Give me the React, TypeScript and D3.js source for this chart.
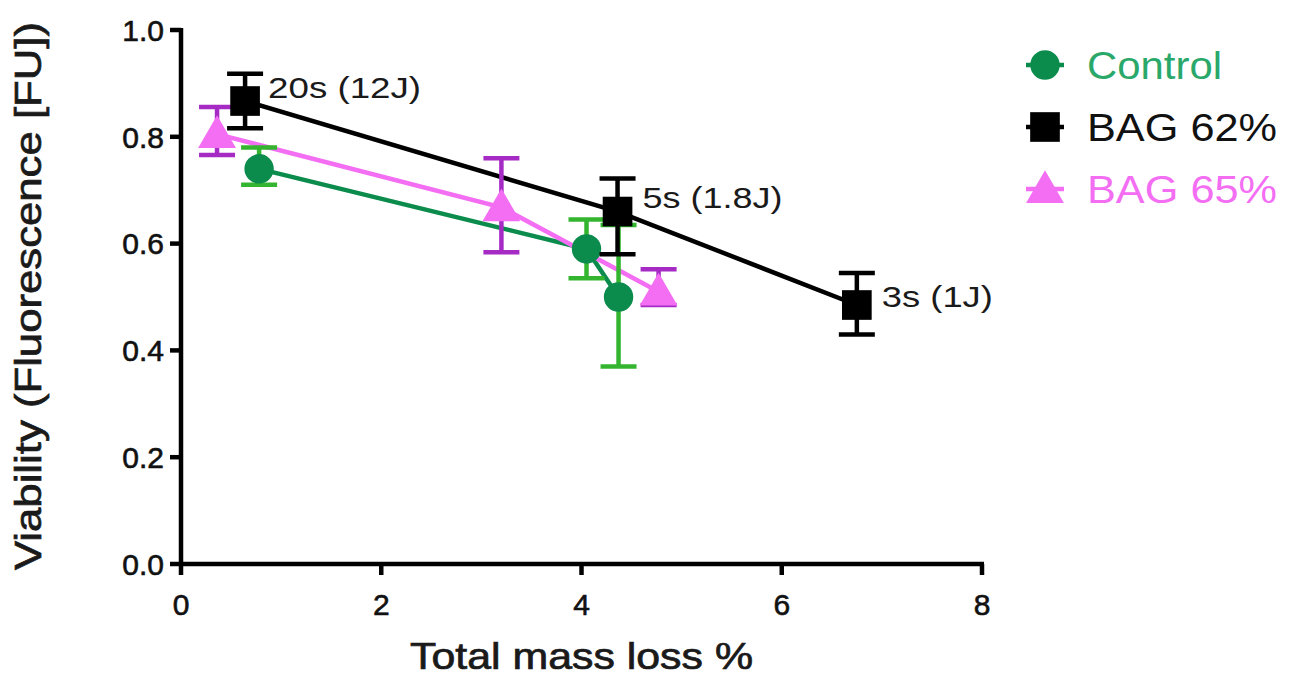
import React from "react";
import * as d3 from "d3";

// series: x = total mass loss %, y = viability, lo/hi = error bar ends
const controlX = [0.78, 4.05, 4.37];
const controlY = [0.74, 0.59, 0.5];
const controlLo = [0.71, 0.535, 0.37];
const controlHi = [0.78, 0.645, 0.635];

const bag62X = [0.64, 4.36, 6.75];
const bag62Y = [0.867, 0.66, 0.485];
const bag62Lo = [0.816, 0.58, 0.43];
const bag62Hi = [0.918, 0.722, 0.545];

const bag65X = [0.36, 3.2, 4.77];
const bag65Y = [0.805, 0.668, 0.51];
const bag65Lo = [0.766, 0.584, 0.485];
const bag65Hi = [0.856, 0.76, 0.552];

const bag62Notes = ["20s (12J)", "5s (1.8J)", "3s (1J)"];
const noteWidths = [153, 140, 111];

const xTicks = [0, 2, 4, 6, 8];
const yTicks = [0, 0.2, 0.4, 0.6, 0.8, 1.0];

const font = "'Liberation Sans', Arial, sans-serif";

export default function App() {
  const x = d3.scaleLinear().domain([0, 8]).range([181, 982]);
  const y = d3.scaleLinear().domain([0, 1]).range([564, 30]);

  const series = [
    {
      name: "Control", xs: controlX, ys: controlY, lo: controlLo, hi: controlHi,
      line: "#0c8c4c", marker: "#0c8c4c", err: "#33b52f", text: "#2aa86a", shape: "circle", w: 135,
    },
    {
      name: "BAG 65%", xs: bag65X, ys: bag65Y, lo: bag65Lo, hi: bag65Hi,
      line: "#f36ef3", marker: "#f36ef3", err: "#a52bc4", text: "#f36ef3", shape: "triangle", w: 190,
    },
    {
      name: "BAG 62%", xs: bag62X, ys: bag62Y, lo: bag62Lo, hi: bag62Hi,
      line: "#000", marker: "#000", err: "#000", text: "#111", shape: "square", w: 190,
    },
  ];

  const sym = (shape: string) =>
    shape === "circle" ? d3.symbol(d3.symbolCircle, 680)()
      : shape === "square" ? d3.symbol(d3.symbolSquare, 880)()
      : d3.symbol(d3.symbolTriangle, 620)();

  const line = d3.line<number>();

  const legend = [series[0], series[2], series[1]];

  return (
    <svg width={1296} height={680} style={{ position: "absolute", left: 0, top: 0 }}>
      {/* axes */}
      <g stroke="#000" strokeWidth={4.5} fill="none">
        <line x1={x(0)} x2={x(0)} y1={y(1) - 2} y2={y(0) + 2} />
        <line x1={x(0) - 2} x2={x(8) + 2} y1={y(0)} y2={y(0)} />
        {yTicks.map((t) => (
          <line key={t} x1={x(0) - 11} x2={x(0)} y1={y(t)} y2={y(t)} />
        ))}
        {xTicks.map((t) => (
          <line key={t} x1={x(t)} x2={x(t)} y1={y(0)} y2={y(0) + 11} />
        ))}
      </g>
      <g fontFamily={font} fontSize={30} fill="#111" stroke="#111" strokeWidth={0.6}>
        {yTicks.map((t) => (
          <text key={t} x={x(0) - 17} y={y(t)} dy="0.36em" textAnchor="end">
            {t.toFixed(1)}
          </text>
        ))}
        {xTicks.map((t) => (
          <text key={t} x={x(t)} y={615} textAnchor="middle">
            {t}
          </text>
        ))}
      </g>
      <g fontFamily={font} fontSize={36} fill="#1a1a1a" stroke="#1a1a1a" strokeWidth={0.7}>
        <text x={410} y={669} textLength={343} lengthAdjust="spacingAndGlyphs">
          Total mass loss %
        </text>
        <text
          transform="translate(41,570) rotate(-90)"
          textLength={548} lengthAdjust="spacingAndGlyphs"
        >
          Viability  (Fluorescence [FU])
        </text>
      </g>

      {/* series lines */}
      {series.map((s) => (
        <path
          key={s.name + "l"}
          d={line(s.xs.map((v, i) => [x(v), y(s.ys[i])]))!}
          fill="none" stroke={s.line} strokeWidth={4.5}
        />
      ))}
      {/* error bars and markers */}
      {series.map((s) => (
        <g key={s.name + "p"}>
          {s.xs.map((v, i) => (
            <g key={i}>
              <g stroke={s.err} strokeWidth={4.5}>
                <line x1={x(v)} x2={x(v)} y1={y(s.lo[i])} y2={y(s.hi[i])} />
                <line x1={x(v) - 18} x2={x(v) + 18} y1={y(s.lo[i])} y2={y(s.lo[i])} />
                <line x1={x(v) - 18} x2={x(v) + 18} y1={y(s.hi[i])} y2={y(s.hi[i])} />
              </g>
              <path
                d={sym(s.shape)!}
                transform={`translate(${x(v)},${y(s.ys[i]) + (s.shape === "triangle" ? 3 : 0)})`}
                fill={s.marker}
              />
            </g>
          ))}
        </g>
      ))}
      {/* annotations for BAG 62% */}
      <g fontFamily={font} fontSize={30} fill="#1a1a1a">
        {bag62Notes.map((n, i) => (
          <text
            key={n}
            x={x(bag62X[i]) + (i === 0 ? 23 : 25)}
            y={y(bag62Y[i]) + (i === 0 ? -3 : i === 1 ? -4 : 2)}
            textLength={noteWidths[i]} lengthAdjust="spacingAndGlyphs"
          >
            {n}
          </text>
        ))}
      </g>
      {/* legend */}
      {legend.map((s, i) => {
        const ly = 65 + i * 62;
        return (
          <g key={s.name + "g"}>
            <line x1={1026} x2={1064} y1={ly} y2={ly} stroke={s.line} strokeWidth={4.5} />
            <path d={sym(s.shape)!} transform={`translate(1045,${ly + (s.shape === "triangle" ? 3 : 0)})`} fill={s.marker} />
            <text
              x={1087} y={ly} dy="0.36em" fontFamily={font} fontSize={38} fill={s.text}
              textLength={s.w} lengthAdjust="spacingAndGlyphs"
            >
              {s.name}
            </text>
          </g>
        );
      })}
    </svg>
  );
}
